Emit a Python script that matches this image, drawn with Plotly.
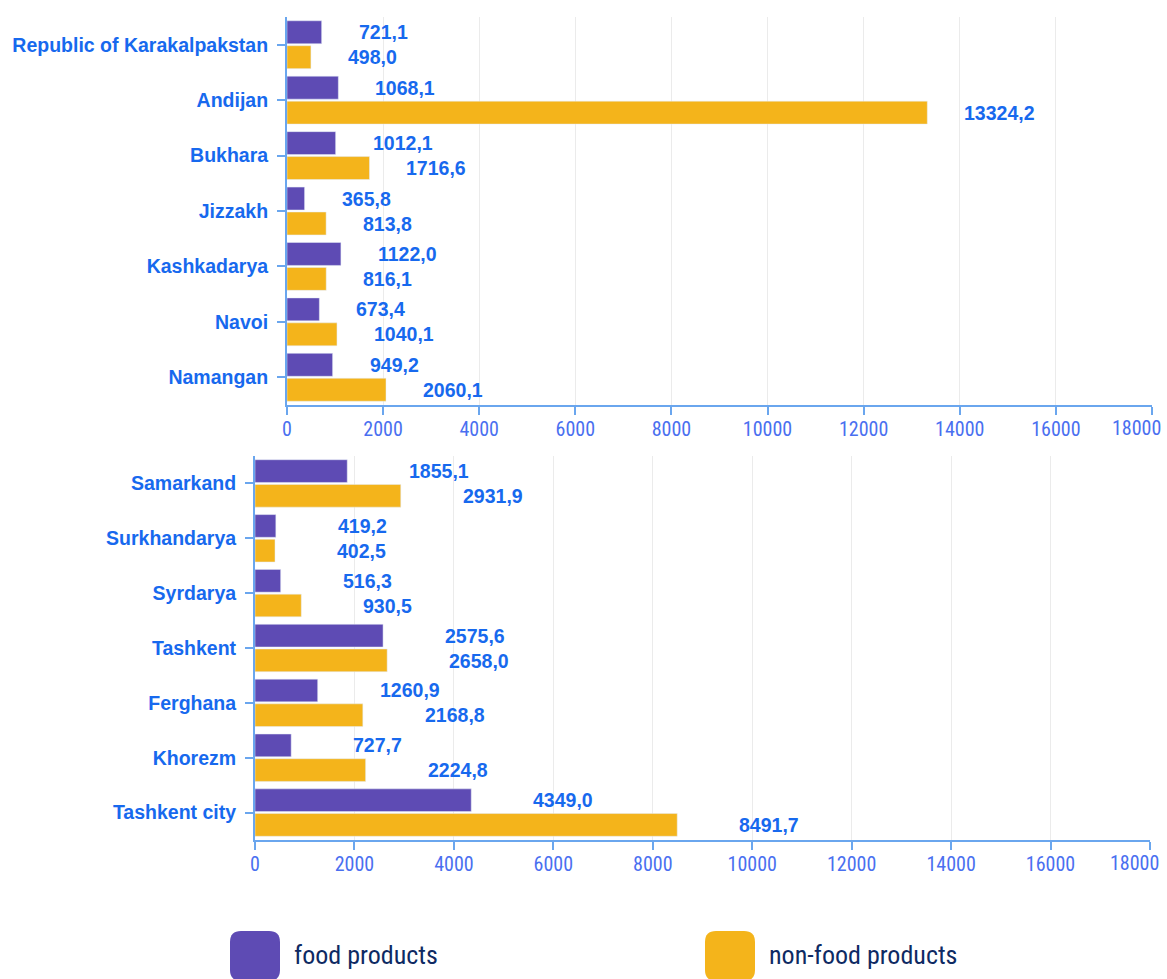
import plotly.graph_objects as go

# Data (thousand units)
REGIONS_TOP = ["Republic of Karakalpakstan", "Andijan", "Bukhara", "Jizzakh",
               "Kashkadarya", "Navoi", "Namangan"]
FOOD_TOP = [721.1, 1068.1, 1012.1, 365.8, 1122.0, 673.4, 949.2]
NONFOOD_TOP = [498.0, 13324.2, 1716.6, 813.8, 816.1, 1040.1, 2060.1]

REGIONS_BOTTOM = ["Samarkand", "Surkhandarya", "Syrdarya", "Tashkent",
                  "Ferghana", "Khorezm", "Tashkent city"]
FOOD_BOTTOM = [1855.1, 419.2, 516.3, 2575.6, 1260.9, 727.7, 4349.0]
NONFOOD_BOTTOM = [2931.9, 402.5, 930.5, 2658.0, 2168.8, 2224.8, 8491.7]

X_TICKS = [0, 2000, 4000, 6000, 8000, 10000, 12000, 14000, 16000, 18000]
X_MAX = 18000

FOOD_COLOR = "#5E4BB4"
NONFOOD_COLOR = "#F4B41B"
LABEL_BLUE = "#1769EE"
TICK_BLUE = "#4A6FF0"
AXIS_BLUE = "#6AA6EE"
GRID = "#EBEBEB"
NARROW = "Liberation Sans Narrow, Roboto Condensed, DejaVu Sans Condensed, sans-serif"
BOLD = "Liberation Sans, Arial, sans-serif"

W, H = 1167, 979


def px(x):
    return x / W


def py(y):
    return 1 - y / H


def fmt(v):
    return f"{v:.1f}".replace(".", ",")


fig = go.Figure()

panels = [
    (REGIONS_TOP, FOOD_TOP, NONFOOD_TOP, "x", "y", 35),
    (REGIONS_BOTTOM, FOOD_BOTTOM, NONFOOD_BOTTOM, "x2", "y2", 60),
]

annotations = []
for regions, food, nonfood, xa, ya, shift in panels:
    fig.add_trace(go.Bar(
        y=regions, x=food, orientation="h", name="food products",
        marker=dict(color=FOOD_COLOR), xaxis=xa, yaxis=ya,
        hoverinfo="x+y",
    ))
    fig.add_trace(go.Bar(
        y=regions, x=nonfood, orientation="h", name="non-food products",
        marker=dict(color=NONFOOD_COLOR), xaxis=xa, yaxis=ya,
        hoverinfo="x+y",
    ))
    for r, f, n in zip(regions, food, nonfood):
        for val, ys in ((f, 12.5), (n, -12.5)):
            annotations.append(dict(
                x=val, y=r, xref=xa, yref=ya, text=fmt(val),
                showarrow=False, xanchor="left", yanchor="middle",
                xshift=shift, yshift=ys,
                font=dict(family=BOLD, size=19.5, color=LABEL_BLUE, weight="bold"),
            ))
    # last tick label sits pulled in from the edge, as in the original
    annotations.append(dict(
        x=X_MAX, y=0, xref=xa, yref=ya + " domain",
        text=f"{X_MAX}", showarrow=False, xanchor="right", yanchor="top",
        xshift=11, yshift=-9,
        font=dict(family=NARROW, size=20, color=TICK_BLUE),
    ))

tick_text = [str(t) if t != X_MAX else "" for t in X_TICKS]

xaxis_style = dict(
    range=[0, X_MAX], tickvals=X_TICKS, ticktext=tick_text,
    showgrid=True, gridcolor=GRID, gridwidth=1, zeroline=False,
    showline=True, linecolor=AXIS_BLUE, linewidth=2,
    ticks="outside", ticklen=8, tickcolor=AXIS_BLUE, tickwidth=2,
    ticklabelstandoff=-3,
    tickfont=dict(family=NARROW, size=20, color=TICK_BLUE),
    automargin=False, fixedrange=True,
)
yaxis_style = dict(
    type="category", autorange="reversed",
    showgrid=False, zeroline=False,
    showline=True, linecolor=AXIS_BLUE, linewidth=2,
    ticks="outside", ticklen=8, tickcolor=AXIS_BLUE, tickwidth=2,
    ticklabelstandoff=5,
    tickfont=dict(family=BOLD, size=19.5, color=LABEL_BLUE, weight="bold"),
    automargin=False, fixedrange=True,
)

fig.update_layout(
    width=W, height=H,
    margin=dict(l=0, r=0, t=0, b=0),
    paper_bgcolor="white", plot_bgcolor="white",
    barmode="group", bargap=0.1, bargroupgap=0.08,
    showlegend=False,
    xaxis=dict(domain=[px(287), px(1152)], anchor="y", **xaxis_style),
    yaxis=dict(domain=[py(405), py(17)], anchor="x", **yaxis_style),
    xaxis2=dict(domain=[px(255), px(1150)], anchor="y2", **xaxis_style),
    yaxis2=dict(domain=[py(840), py(456)], anchor="x2", **yaxis_style),
)


# legend: big rounded squares drawn as shapes, labels as annotations
def rounded_square(x0, y0, size, r):
    def p(x, y):
        return f"{px(x):.5f},{py(y):.5f}"
    x1, y1 = x0 + size, y0 + size
    return (f"M {p(x0 + r, y0)} L {p(x1 - r, y0)} Q {p(x1, y0)} {p(x1, y0 + r)} "
            f"L {p(x1, y1 - r)} Q {p(x1, y1)} {p(x1 - r, y1)} "
            f"L {p(x0 + r, y1)} Q {p(x0, y1)} {p(x0, y1 - r)} "
            f"L {p(x0, y0 + r)} Q {p(x0, y0)} {p(x0 + r, y0)} Z")


legend_items = [("food products", FOOD_COLOR, 230), ("non-food products", NONFOOD_COLOR, 705)]
shapes = []
for text, color, lx in legend_items:
    shapes.append(dict(type="path", xref="paper", yref="paper",
                       path=rounded_square(lx, 931, 50, 11),
                       fillcolor=color, line=dict(width=0)))
    annotations.append(dict(
        x=px(lx + 62), y=py(955), xref="paper", yref="paper",
        text=text, showarrow=False, xanchor="left", yanchor="middle",
        font=dict(family=NARROW, size=26, color="#0E2A63"),
    ))

fig.update_layout(shapes=shapes, annotations=annotations)

# drop the default 8px body margin so the figure fills the window exactly
fig.write_html("out.html", config={"displayModeBar": False},
               post_script="document.body.style.margin = '0';")
